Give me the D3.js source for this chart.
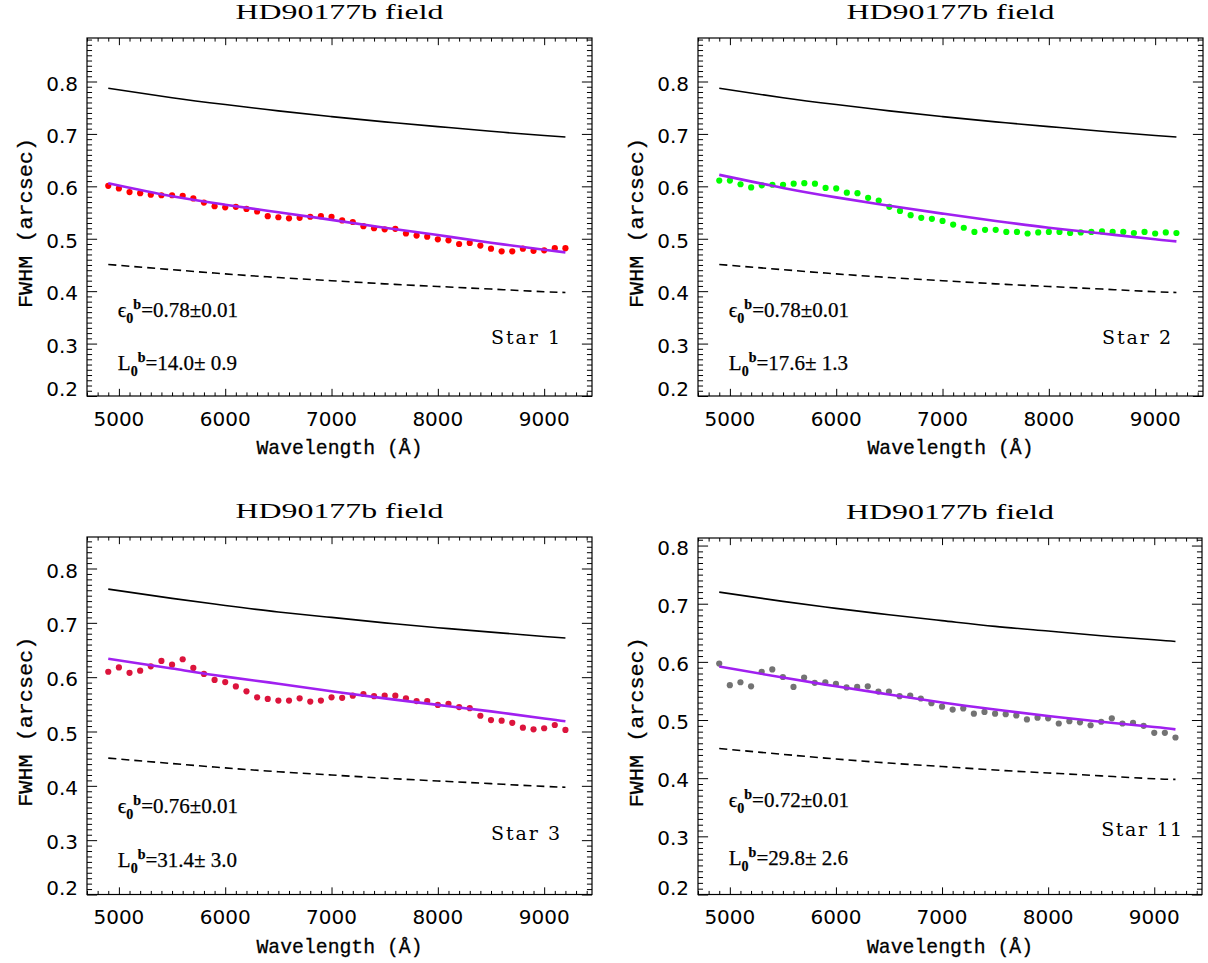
<!DOCTYPE html>
<html>
<head>
<meta charset="utf-8">
<script src="https://cdn.jsdelivr.net/npm/d3@7"></script>
<style>
  body { margin: 0; background: #ffffff; }
  svg { display: block; }
</style>
</head>
<body>
<svg id="chart" width="1208" height="963"></svg>
<script>
// Wavelength grid of the measured FWHM points (Å)
const wavelength = [
  4900, 5000, 5100, 5200, 5300, 5400, 5500, 5600, 5700, 5800, 5900,
  6000, 6100, 6200, 6300, 6400, 6500, 6600, 6700, 6800, 6900,
  7000, 7100, 7200, 7300, 7400, 7500, 7600, 7700, 7800, 7900,
  8000, 8100, 8200, 8300, 8400, 8500, 8600, 8700, 8800, 8900,
  9000, 9100, 9200
];

// Wavelengths at which the model curves are sampled (Å)
const curveWavelength = [4900, 5500, 6000, 6500, 7000, 7500, 8000, 8500, 9000, 9200];

// Measured FWHM (arcsec)
const star1Fwhm = [
  0.601, 0.596, 0.589, 0.587, 0.584, 0.583, 0.583, 0.582, 0.577, 0.569, 0.562,
  0.560, 0.561, 0.557, 0.552, 0.543, 0.541, 0.539, 0.540, 0.542, 0.543,
  0.542, 0.535, 0.532, 0.524, 0.520, 0.518, 0.519, 0.510, 0.506, 0.504,
  0.499, 0.497, 0.490, 0.492, 0.487, 0.481, 0.476, 0.476, 0.481, 0.477,
  0.478, 0.482, 0.482
];
const star2Fwhm = [
  0.611, 0.611, 0.604, 0.598, 0.602, 0.603, 0.603, 0.605, 0.606, 0.605, 0.597,
  0.596, 0.588, 0.587, 0.578, 0.573, 0.561, 0.553, 0.545, 0.540, 0.538,
  0.534, 0.527, 0.521, 0.513, 0.517, 0.517, 0.513, 0.513, 0.510, 0.512,
  0.513, 0.513, 0.511, 0.512, 0.513, 0.514, 0.513, 0.513, 0.511, 0.513,
  0.510, 0.512, 0.511
];
const star3Fwhm = [
  0.610, 0.618, 0.608, 0.612, 0.620, 0.630, 0.623, 0.633, 0.617, 0.606, 0.595,
  0.591, 0.583, 0.574, 0.563, 0.560, 0.557, 0.557, 0.561, 0.555, 0.557,
  0.563, 0.562, 0.566, 0.569, 0.565, 0.566, 0.566, 0.561, 0.556, 0.556,
  0.549, 0.551, 0.545, 0.543, 0.529, 0.521, 0.520, 0.516, 0.507, 0.504,
  0.506, 0.512, 0.503
];
const star11Fwhm = [
  0.597, 0.560, 0.565, 0.558, 0.583, 0.587, 0.574, 0.557, 0.573, 0.564, 0.565,
  0.562, 0.556, 0.557, 0.558, 0.549, 0.549, 0.541, 0.542, 0.537, 0.529,
  0.523, 0.518, 0.520, 0.511, 0.514, 0.511, 0.510, 0.508, 0.501, 0.504,
  0.503, 0.494, 0.498, 0.496, 0.491, 0.497, 0.503, 0.494, 0.495, 0.490,
  0.478, 0.478, 0.470
];

// Best-fit model FWHM (arcsec), sampled at curveWavelength
const star1Fit  = [0.606, 0.581, 0.565, 0.5505, 0.536, 0.521, 0.507, 0.4925, 0.479, 0.474];
const star2Fit  = [0.622, 0.597, 0.579, 0.563, 0.548, 0.534, 0.521, 0.510, 0.499, 0.495];
const star3Fit  = [0.634, 0.616, 0.601, 0.588, 0.574, 0.561, 0.549, 0.537, 0.524, 0.519];
const star11Fit = [0.592, 0.573, 0.558, 0.544, 0.530, 0.518, 0.507, 0.497, 0.488, 0.484];

// Seeing curves (solid) and lower reference curves (dashed), arcsec
const star1Seeing  = [0.787, 0.769, 0.756, 0.744, 0.733, 0.723, 0.714, 0.705, 0.697, 0.694];
const star2Seeing  = [0.787, 0.769, 0.756, 0.744, 0.733, 0.723, 0.714, 0.705, 0.697, 0.694];
const star3Seeing  = [0.762, 0.745, 0.732, 0.720, 0.710, 0.700, 0.691, 0.683, 0.675, 0.672];
const star11Seeing = [0.720, 0.704, 0.692, 0.681, 0.671, 0.661, 0.653, 0.645, 0.638, 0.635];
const star1Lower  = [0.451, 0.441, 0.433, 0.426, 0.420, 0.414, 0.409, 0.404, 0.399, 0.3975];
const star2Lower  = [0.451, 0.441, 0.433, 0.426, 0.420, 0.414, 0.409, 0.404, 0.399, 0.3975];
const star3Lower  = [0.451, 0.441, 0.433, 0.426, 0.420, 0.414, 0.409, 0.404, 0.399, 0.3975];
const star11Lower = [0.451, 0.441, 0.433, 0.426, 0.420, 0.414, 0.409, 0.404, 0.399, 0.398];

// Panel labels and fitted parameters
const starNames = ["Star 1", "Star 2", "Star 3", "Star 11"];
const epsilonValues = ["0.78±0.01", "0.78±0.01", "0.76±0.01", "0.72±0.01"];
const outerScaleValues = ["14.0± 0.9", "17.6± 1.3", "31.4± 3.0", "29.8± 2.6"];
const pointColors = ["#ff0000", "#00ff00", "#dc143c", "#737373"];
const yMaxValues = [0.883, 0.883, 0.858, 0.813];

const panelTitle = "HD90177b field";
const xTitle = "Wavelength (Å)";
const yTitle = "FWHM (arcsec)";
const xTickValues = [5000, 6000, 7000, 8000, 9000];
const xDomain = [4700, 9450];

const fwhmSets = [star1Fwhm, star2Fwhm, star3Fwhm, star11Fwhm];
const fitSets = [star1Fit, star2Fit, star3Fit, star11Fit];
const seeingSets = [star1Seeing, star2Seeing, star3Seeing, star11Seeing];
const lowerSets = [star1Lower, star2Lower, star3Lower, star11Lower];

// Plot boxes in pixels
const boxes = [
  { left: 87,  right: 592,  top: 38,  bottom: 396 },
  { left: 698, right: 1203, top: 38,  bottom: 396 },
  { left: 87,  right: 592,  top: 537, bottom: 894.5 },
  { left: 698, right: 1202, top: 538, bottom: 894.5 }
];

const svg = d3.select("#chart");
svg.append("rect").attr("width", 1208).attr("height", 963).attr("fill", "#ffffff");

const TICK_FONT = "'DejaVu Sans', sans-serif";
const TITLE_FONT = "'Liberation Serif', serif";
const STAR_FONT = "'DejaVu Serif', serif";
const AXIS_FONT = "'Liberation Mono', monospace";
const NOTE_FONT = "'Liberation Serif', serif";

boxes.forEach((b, i) => {
  const g = svg.append("g");
  const x = d3.scaleLinear().domain(xDomain).range([b.left, b.right]);
  const y = d3.scaleLinear().domain([0.2, yMaxValues[i]]).range([b.bottom, b.top]);
  const w = b.right - b.left;
  const h = b.bottom - b.top;
  const xLen = 0.02 * h;   // tick length of x axes
  const yLen = 0.02 * w;   // tick length of y axes

  const xMinor = d3.range(4700, 9451, 100).filter(v => v % 1000 !== 0);
  const yMajor = d3.range(2, Math.floor(yMaxValues[i] * 10 + 1e-6) + 1).map(v => v / 10);
  const yMinor = d3.range(20, Math.floor(yMaxValues[i] * 100 + 1e-6) + 1)
    .filter(v => v % 10 !== 0).map(v => v / 100);

  const axisSpecs = [
    [d3.axisBottom, x, `translate(0,${b.bottom})`, xTickValues, -xLen],
    [d3.axisBottom, x, `translate(0,${b.bottom})`, xMinor, -xLen / 2],
    [d3.axisTop, x, `translate(0,${b.top})`, xTickValues, -xLen],
    [d3.axisTop, x, `translate(0,${b.top})`, xMinor, -xLen / 2],
    [d3.axisLeft, y, `translate(${b.left},0)`, yMajor, -yLen],
    [d3.axisLeft, y, `translate(${b.left},0)`, yMinor, -yLen / 2],
    [d3.axisRight, y, `translate(${b.right},0)`, yMajor, -yLen],
    [d3.axisRight, y, `translate(${b.right},0)`, yMinor, -yLen / 2]
  ];
  axisSpecs.forEach(([fn, sc, tr, vals, len]) => {
    const a = g.append("g").attr("transform", tr)
      .call(fn(sc).tickValues(vals).tickSize(len).tickSizeOuter(0).tickFormat(""));
    a.select(".domain").remove();
    a.selectAll("line").attr("stroke", "#000").attr("stroke-width", 1);
  });

  // frame
  g.append("rect")
    .attr("x", b.left).attr("y", b.top).attr("width", w).attr("height", h)
    .attr("fill", "none").attr("stroke", "#000").attr("stroke-width", 1.2);

  // tick labels
  g.selectAll(".xlab").data(xTickValues).join("text")
    .attr("x", d => x(d)).attr("y", b.bottom + 29.5)
    .attr("text-anchor", "middle")
    .attr("font-family", TICK_FONT).attr("font-size", 20).attr("fill", "#000")
    .text(d => d3.format("d")(d));
  g.selectAll(".ylab").data(yMajor).join("text")
    .attr("x", b.left - 9).attr("y", d => y(d) + (d === 0.2 ? 0 : 9))
    .attr("text-anchor", "end")
    .attr("font-family", TICK_FONT).attr("font-size", 20).attr("fill", "#000")
    .text(d => d3.format(".1f")(d));

  // axis titles
  g.append("text")
    .attr("x", (b.left + b.right) / 2).attr("y", b.bottom + 58)
    .attr("text-anchor", "middle")
    .attr("font-family", AXIS_FONT).attr("font-size", 21).attr("fill", "#000")
    .attr("stroke", "#000").attr("stroke-width", 0.3)
    .attr("textLength", 166).attr("lengthAdjust", "spacingAndGlyphs")
    .text(xTitle);
  const yc = (b.top + b.bottom) / 2 + 6;
  g.append("text")
    .attr("transform", `translate(${b.left - 55},${yc}) rotate(-90)`)
    .attr("text-anchor", "middle")
    .attr("font-family", AXIS_FONT).attr("font-size", 21).attr("fill", "#000")
    .attr("stroke", "#000").attr("stroke-width", 0.3)
    .attr("textLength", 170).attr("lengthAdjust", "spacingAndGlyphs")
    .text(yTitle);

  // panel title
  g.append("text")
    .attr("x", (b.left + b.right) / 2).attr("y", b.top - 19)
    .attr("text-anchor", "middle")
    .attr("font-family", TITLE_FONT).attr("font-size", 21).attr("fill", "#000")
    .attr("textLength", 208).attr("lengthAdjust", "spacingAndGlyphs")
    .text(panelTitle);

  // model curves
  const curvePts = vals => curveWavelength.map((wl, k) => [wl, vals[k]]);
  const line = d3.line().x(d => x(d[0])).y(d => y(d[1])).curve(d3.curveNatural);

  g.append("path").attr("d", line(curvePts(seeingSets[i])))
    .attr("fill", "none").attr("stroke", "#000").attr("stroke-width", 1.6);
  g.append("path").attr("d", line(curvePts(lowerSets[i])))
    .attr("fill", "none").attr("stroke", "#000").attr("stroke-width", 1.6)
    .attr("stroke-dasharray", "8,5");

  // measurements
  g.selectAll(".pt").data(wavelength.map((wl, k) => [wl, fwhmSets[i][k]])).join("circle")
    .attr("cx", d => x(d[0])).attr("cy", d => y(d[1])).attr("r", 3.1)
    .attr("fill", pointColors[i]);

  // fit
  g.append("path").attr("d", line(curvePts(fitSets[i])))
    .attr("fill", "none").attr("stroke", "#a020f0").attr("stroke-width", 2.6);

  // annotations
  const eps = g.append("text")
    .attr("x", x(4990)).attr("y", y(0.35))
    .attr("font-family", NOTE_FONT).attr("font-size", 21).attr("fill", "#000")
    .attr("stroke", "#000").attr("stroke-width", 0.25);
  eps.append("tspan").text("\u03F5");
  eps.append("tspan").attr("font-size", 14).attr("font-weight", "bold").attr("dy", 6).text("0");
  eps.append("tspan").attr("font-size", 14).attr("font-weight", "bold").attr("dy", -14).text("b");
  eps.append("tspan").attr("dy", 8).text("=" + epsilonValues[i]);

  const l0 = g.append("text")
    .attr("x", x(4990)).attr("y", y(0.25))
    .attr("font-family", NOTE_FONT).attr("font-size", 21).attr("fill", "#000")
    .attr("stroke", "#000").attr("stroke-width", 0.25)
    .attr("xml:space", "preserve");
  l0.append("tspan").text("L");
  l0.append("tspan").attr("font-size", 14).attr("font-weight", "bold").attr("dy", 6).text("0");
  l0.append("tspan").attr("font-size", 14).attr("font-weight", "bold").attr("dy", -14).text("b");
  l0.append("tspan").attr("dy", 8).text("=" + outerScaleValues[i]);

  g.append("text")
    .attr("x", x(8500)).attr("y", y(0.3))
    .attr("font-family", STAR_FONT).attr("font-size", 19).attr("fill", "#000")
    .attr("xml:space", "preserve")
    .attr("textLength", starNames[i].length > 6 ? 81 : 69).attr("lengthAdjust", "spacing")
    .text(starNames[i]);
});
</script>
</body>
</html>
